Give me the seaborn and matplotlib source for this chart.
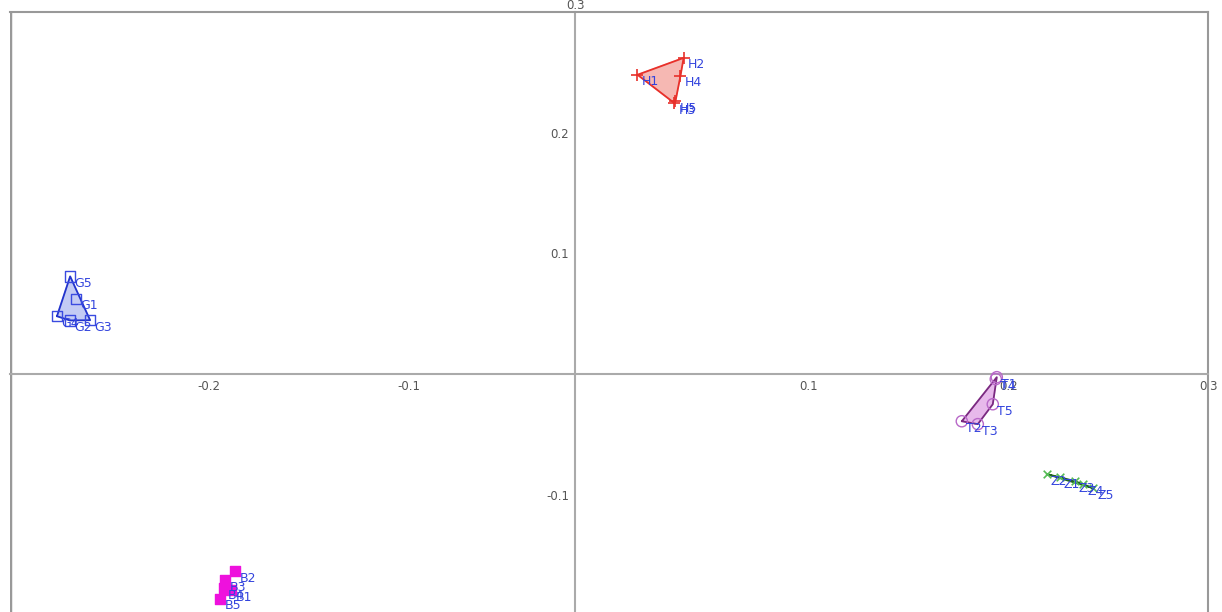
import numpy as np
import pandas as pd
import seaborn as sns
import matplotlib.pyplot as plt

# group scores
h_x = [0.0145, 0.0376, 0.0330, 0.0360, 0.0335]
h_y = [0.2480, 0.2620, 0.2245, 0.2470, 0.2260]
g_x = [-0.2664, -0.2695, -0.2594, -0.2760, -0.2694]
g_y = [0.0625, 0.0445, 0.0447, 0.0480, 0.0810]
b_x = [-0.1888, -0.1868, -0.1918, -0.1925, -0.1943]
b_y = [-0.1790, -0.1632, -0.1707, -0.1775, -0.1860]
t_x = [0.1943, 0.1768, 0.1848, 0.1938, 0.1923]
t_y = [-0.0025, -0.0390, -0.0414, -0.0041, -0.0249]
z_x = [0.2258, 0.2193, 0.2333, 0.2374, 0.2424]
z_y = [-0.0853, -0.0828, -0.0886, -0.0911, -0.0944]

groups = ["H", "G", "B", "T", "Z"]
xs = [h_x, g_x, b_x, t_x, z_x]
ys = [h_y, g_y, b_y, t_y, z_y]

x_ticks = [-0.2, -0.1, 0.1, 0.2, 0.3]
y_ticks = [-0.1, 0.1, 0.2, 0.3]

rows = []
for g, gx, gy in zip(groups, xs, ys):
    for i, (a, b) in enumerate(zip(gx, gy)):
        rows.append({"group": g, "label": f"{g}{i+1}", "x": a, "y": b})
data = pd.DataFrame(rows)

styles = {
    "H": dict(marker="+", color="#e8302a", face=None, hull="#e8302a", fill="#f4a6a0", s=80),
    "G": dict(marker="s", color="#3a4be0", face="none", hull="#2233cc", fill="#b4bef2", s=55),
    "B": dict(marker="s", color="#ee11dd", face="#ee11dd", hull=None, fill=None, s=60),
    "T": dict(marker="o", color="#b868c8", face="none", hull="#7a2a80", fill="#e2a8e6", s=65),
    "Z": dict(marker="x", color="#55bb55", face=None, hull="#226622", fill=None, s=30),
}

y_axis_at = -0.017  # where the vertical axis line is drawn


#Convex hull (monotone chain)
def hull(points):
    pts = sorted(set(points))
    if len(pts) < 3:
        return pts

    def cross(o, a, b):
        return (a[0] - o[0]) * (b[1] - o[1]) - (a[1] - o[1]) * (b[0] - o[0])

    lower, upper = [], []
    for p in pts:
        while len(lower) >= 2 and cross(lower[-2], lower[-1], p) <= 0:
            lower.pop()
        lower.append(p)
    for p in reversed(pts):
        while len(upper) >= 2 and cross(upper[-2], upper[-1], p) <= 0:
            upper.pop()
        upper.append(p)
    return lower[:-1] + upper[:-1]


sns.set_style("white")
fig = plt.figure(figsize=(12.22, 6.12), dpi=100)
ax = fig.add_axes([10 / 1222, 0, 1198 / 1222, 600 / 612])

for g in groups:
    st = styles[g]
    sub = data[data.group == g]
    if st["hull"] is not None:
        hp = np.array(hull(list(zip(sub.x, sub.y))))
        if st["fill"] is not None:
            ax.fill(hp[:, 0], hp[:, 1], color=st["fill"], alpha=0.8, zorder=2)
        ax.plot(np.append(hp[:, 0], hp[0, 0]), np.append(hp[:, 1], hp[0, 1]),
                color=st["hull"], lw=1.3, zorder=3)
    kw = dict(marker=st["marker"], s=st["s"], zorder=4, legend=False)
    if st["face"] is None:
        kw.update(color=st["color"], linewidth=1.2)
    else:
        kw.update(facecolors=st["face"], edgecolor=st["color"], linewidth=1.0)
    sns.scatterplot(data=sub, x="x", y="y", ax=ax, **kw)
    for _, r in sub.iterrows():
        ax.annotate(r.label, (r.x, r.y), xytext=(3, -5), textcoords="offset points",
                    ha="left", va="center", fontsize=9, color="#3344dd", zorder=5)

ax.set_xlim(-0.2995, 0.3)
ax.set_ylim(-0.197, 0.3)
ax.set_xlabel("")
ax.set_ylabel("")

#Frame on three sides, axes crossing inside the plot
for side in ["top", "right"]:
    ax.spines[side].set_color("#999999")
    ax.spines[side].set_linewidth(1.5)
ax.spines["left"].set_position(("data", y_axis_at))
ax.spines["bottom"].set_position(("data", 0))
for side in ["left", "bottom"]:
    ax.spines[side].set_color("#aaaaaa")
    ax.spines[side].set_linewidth(1.5)
ax.axvline(-0.2995, color="#999999", lw=2.5, zorder=1)

ax.set_xticks(x_ticks)
ax.set_xticklabels([f"{v:.1f}" for v in x_ticks])
ax.set_yticks(y_ticks)
ax.set_yticklabels([f"{v:.1f}" for v in y_ticks])
ax.tick_params(axis="x", direction="in", length=4, width=1, colors="#888888",
               labelcolor="#555555", labelsize=8.5, pad=4)
ax.tick_params(axis="y", direction="out", length=3, width=1, colors="#888888",
               labelcolor="#555555", labelsize=8.5, pad=1)

#The top y label sits above the frame, centred on the axis
top = ax.get_yticklabels()[-1]
top.set_transform(ax.transData)
top.set_horizontalalignment("center")
top.set_verticalalignment("bottom")
top.set_position((y_axis_at + 0.0005, y_ticks[-1] + 0.0005))
ax.grid(False)

fig.savefig("out.png", dpi=100)
